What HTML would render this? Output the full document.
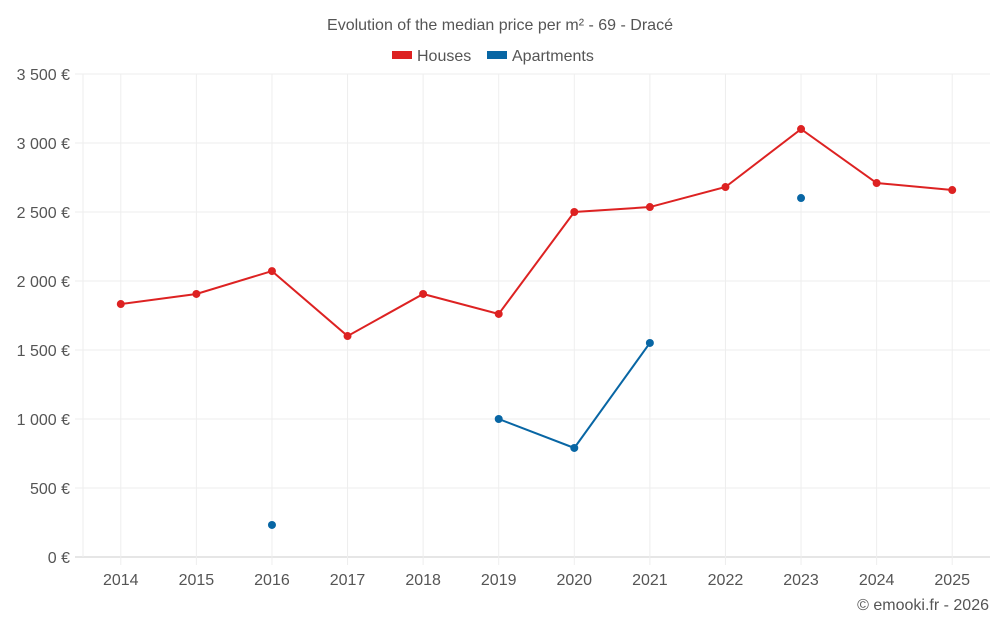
<!DOCTYPE html>
<html><head><meta charset="utf-8"><style>
body{margin:0;background:#fff;font-family:"Liberation Sans",sans-serif;}
svg text{font-family:"Liberation Sans",sans-serif;}
</style></head><body>
<svg width="1000" height="625">
<text x="500" y="30" text-anchor="middle" font-size="16" fill="#555">Evolution of the median price per m² - 69 - Dracé</text>
<g><rect x="392" y="51" width="20" height="8" fill="#dd2222"/><text x="417" y="61" font-size="16" fill="#555">Houses</text></g>
<g><rect x="487" y="51" width="20" height="8" fill="#0866a4"/><text x="512" y="61" font-size="16" fill="#555">Apartments</text></g>
<g id="grid"></g><g id="axes"></g><g id="series"></g>
<text x="989" y="610" text-anchor="end" font-size="16" fill="#555">© emooki.fr - 2026</text>
</svg>
<script>
const years=["2014","2015","2016","2017","2018","2019","2020","2021","2022","2023","2024","2025"];
const houses=[1833,1906,2072,1601,1906,1761,2500,2536,2681,3101,2710,2659];
const apartments=[null,null,232,null,null,1000,790,1551,null,2601,null,null];
const yTicks=[0,500,1000,1500,2000,2500,3000,3500];
const yTickLabels=["0 €","500 €","1 000 €","1 500 €","2 000 €","2 500 €","3 000 €","3 500 €"];
const L=83,R=990,T=74,B=557,yMax=3500;
const bw=(R-L)/years.length;
const x=i=>L+bw*(i+0.5);
const y=v=>B-(v/yMax)*(B-T);
const NS="http://www.w3.org/2000/svg";
function mk(p,t,a){const e=document.createElementNS(NS,t);for(const k in a)e.setAttribute(k,a[k]);p.appendChild(e);return e;}
const g=document.getElementById('grid'),ax=document.getElementById('axes'),s=document.getElementById('series');
yTicks.forEach((v,i)=>{
 const l=mk(g,'line',{x1:L-8,x2:R,y1:y(v),y2:y(v),stroke:i==0?'#ccc':'#eee'});
 
 
 const t=mk(ax,'text',{x:70,y:y(v)+6,'text-anchor':'end','font-size':16,fill:'#555'});t.textContent=yTickLabels[i];
 
 
});
years.forEach((yr,i)=>{
 const l=mk(g,'line',{x1:x(i),x2:x(i),y1:T,y2:B+8,stroke:'#eee'});
 
 
 const t=mk(ax,'text',{x:x(i),y:585,'text-anchor':'middle','font-size':16,fill:'#555'});t.textContent=yr;
 
 
});
mk(g,'line',{x1:L,x2:L,y1:T,y2:B,stroke:'#eee'});
function draw(data,color,name){
 let seg=[];
 const flush=()=>{if(seg.length>1){const p=mk(s,'polyline',{points:seg.join(' '),fill:'none',stroke:color,'stroke-width':2});
  
  }seg=[];};
 data.forEach((v,i)=>{if(v==null){flush();return;}seg.push(x(i)+','+y(v));});
 flush();
 data.forEach((v,i)=>{if(v==null)return;const c=mk(s,'circle',{cx:x(i),cy:y(v),r:4,fill:color});
  
  });
}
draw(houses,'#dd2222','houses');
draw(apartments,'#0866a4','apartments');
</script>
</body></html>
